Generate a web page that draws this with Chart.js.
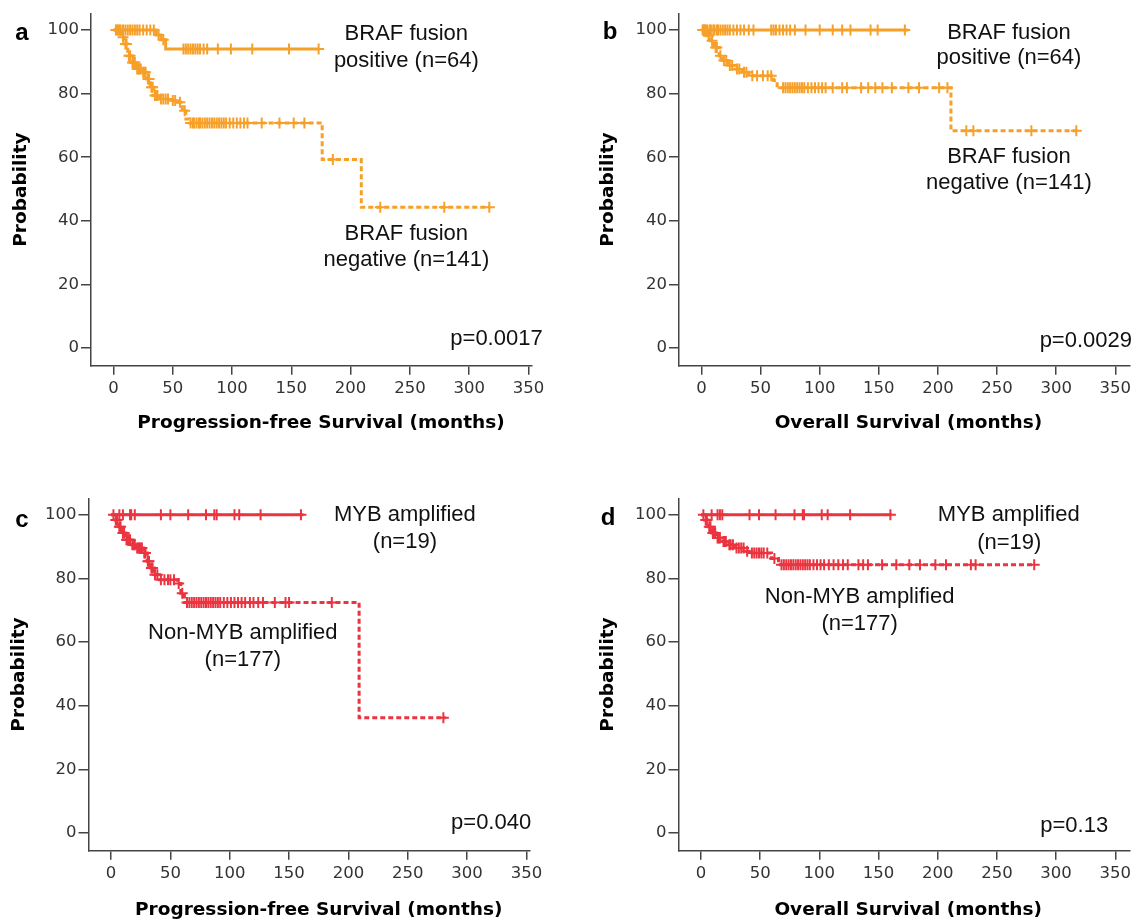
<!DOCTYPE html>
<html>
<head>
<meta charset="utf-8">
<script src="https://cdn.jsdelivr.net/npm/chart.js@4.4.1/dist/chart.umd.min.js"></script>
<style>
  html, body { margin: 0; padding: 0; background: #fff; }
  #wrap { position: relative; width: 1137px; height: 922px; overflow: hidden; }
  canvas { position: absolute; }
</style>
</head>
<body>
<div id="wrap">
  <canvas id="panelA" width="565" height="460" style="left:0px;top:0px"></canvas>
  <canvas id="panelB" width="567" height="460" style="left:570px;top:0px"></canvas>
  <canvas id="panelC" width="565" height="462" style="left:0px;top:460px"></canvas>
  <canvas id="panelD" width="567" height="462" style="left:570px;top:460px"></canvas>
</div>
<script>
// tick labels
var xTicks = [0, 50, 100, 150, 200, 250, 300, 350];
var yTicks = [0, 20, 40, 60, 80, 100];

// a: progression-free survival, BRAF fusion positive / negative
var aPosTimes = [0, 36, 40, 44, 173];
var aPosSurv = [100, 98.4, 96.9, 94.0, 94.0];
var aPosCensor = [2, 4, 6, 8, 10, 12, 14, 16, 18, 20, 22, 25, 28, 31, 34, 38, 42, 59, 61, 63, 65, 67, 69, 71, 73, 76, 79, 88, 99, 117, 148, 173];
var aNegTimes = [0, 6, 9, 12, 15, 19, 24, 28, 31, 34, 39, 48, 54, 58, 61, 64, 176, 209, 317];
var aNegSurv = [100, 97.7, 95.6, 91.9, 89.8, 87.7, 86.7, 84.6, 82.0, 79.4, 78.3, 77.8, 77.3, 74.6, 72.0, 70.8, 59.3, 44.3, 44.3];
var aNegCensor = [3, 5, 8, 10, 11, 13, 14, 16, 17, 18, 20, 21, 22, 23, 25, 26, 27, 29, 30, 32, 33, 35, 36, 37, 40, 42, 44, 46, 50, 52, 56, 60, 65, 67, 68, 70, 72, 73, 75, 77, 79, 81, 83, 85, 87, 89, 91, 93, 95, 98, 101, 104, 107, 110, 113, 125, 140, 152, 161, 185, 225, 279, 317];

// b: overall survival, BRAF fusion positive / negative
var bPosTimes = [0, 175];
var bPosSurv = [100, 100];
var bPosCensor = [1, 2, 4, 5, 7, 8, 10, 11, 13, 14, 16, 18, 20, 22, 24, 27, 30, 33, 36, 40, 44, 59, 61, 63, 66, 69, 72, 75, 79, 88, 100, 111, 119, 126, 143, 149, 172];
var bNegTimes = [0, 4.5, 7.4, 10.4, 14.9, 17.8, 22.3, 28.2, 34.2, 40.1, 61, 64, 66.9, 211, 317];
var bNegSurv = [100, 98.2, 96.6, 94.5, 91.9, 90.4, 88.8, 87.7, 86.7, 85.6, 84.1, 82.5, 81.8, 68.3, 68.3];
var bNegCensor = [2, 3, 6, 9, 12, 13, 16, 19, 21, 24, 26, 30, 32, 36, 38, 43, 47, 52, 56, 59, 69, 71, 73, 75, 77, 79, 81, 83, 85, 87, 90, 93, 96, 99, 102, 105, 111, 119, 123, 135, 141, 147, 153, 161, 175, 184, 201, 208, 224, 230, 279, 317];

// c: progression-free survival, MYB amplified / non-amplified
var cPosTimes = [0, 162];
var cPosSurv = [100, 100];
var cPosCensor = [7, 10, 16, 17, 20, 42, 50, 65, 80, 87, 89, 104, 108, 126, 160];
var cNegTimes = [0, 3.6, 6.6, 9.6, 12.5, 17, 21.5, 27.5, 30.5, 33.4, 36.4, 40.9, 55.8, 58.8, 61.8, 209, 282];
var cNegSurv = [100, 98.4, 96.3, 94.3, 92.2, 90.6, 89.6, 88.0, 85.4, 83.3, 81.2, 79.6, 78.4, 75.4, 72.5, 36.3, 36.3];
var cNegCensor = [2, 4, 5, 7, 8, 10, 11, 13, 14, 15, 16, 18, 19, 20, 22, 23, 24, 25, 26, 28, 29, 31, 32, 34, 35, 37, 39, 42, 45, 48, 50, 53, 57, 60, 64, 66, 68, 70, 72, 74, 76, 78, 80, 82, 84, 86, 88, 90, 92, 95, 98, 101, 104, 107, 110, 113, 117, 120, 124, 128, 138, 147, 150, 186, 280];

// d: overall survival, MYB amplified / non-amplified
var dPosTimes = [0, 161];
var dPosSurv = [100, 100];
var dPosCensor = [9, 14, 16, 18, 41, 49, 63, 79, 86, 87, 102, 107, 126, 160];
var dNegTimes = [0, 3, 6, 9, 13.4, 17.9, 22.3, 28.3, 37.2, 41.7, 59.6, 65.5, 281.5];
var dNegSurv = [100, 98.4, 96.3, 94.3, 92.7, 91.6, 90.6, 89.6, 88.6, 88.0, 86.3, 84.3, 84.3];
var dNegCensor = [2, 4, 5, 7, 8, 10, 11, 12, 14, 15, 16, 19, 20, 21, 24, 25, 27, 30, 32, 34, 36, 39, 43, 45, 47, 49, 51, 53, 56, 62, 68, 70, 72, 74, 76, 78, 80, 82, 84, 86, 88, 90, 92, 95, 98, 101, 104, 108, 112, 116, 120, 124, 133, 137, 141, 153, 165, 176, 185, 198, 207, 228, 232, 281.5];

var ORANGE = '#f6a02a';
var RED = '#ea3440';
var AXIS = '#444';

// survival value of a step curve at time t (for placing censor marks)
function survAt(times, surv, t) {
  var s = surv[0];
  for (var i = 0; i < times.length; i++) {
    if (times[i] <= t) s = surv[i];
  }
  return s;
}

function curveSets(times, surv, censor, color, dashed) {
  var line = {
    data: times.map(function (t, i) { return { x: t, y: surv[i] }; }),
    showLine: true,
    stepped: true,
    borderColor: color,
    borderWidth: 3,
    borderDash: dashed ? [5, 3] : [],
    pointRadius: 0
  };
  var marks = {
    data: censor.map(function (t) { return { x: t, y: survAt(times, surv, t) }; }),
    showLine: false,
    pointStyle: 'cross',
    pointRadius: 5.5,
    borderWidth: 2,
    borderColor: color,
    backgroundColor: color
  };
  return [line, marks];
}

// draws panel letter, x axis title and the group / p-value notes
var notesPlugin = {
  id: 'notes',
  afterDraw: function (chart, args, opts) {
    var ctx = chart.ctx;
    var xs = chart.scales.x, ys = chart.scales.y;
    ctx.save();
    ctx.fillStyle = '#000';
    ctx.textBaseline = 'middle';
    ctx.textAlign = 'center';
    ctx.font = 'bold 24px "Liberation Sans", Arial, sans-serif';
    ctx.fillText(opts.letter, opts.letterPos[0], opts.letterPos[1]);
    ctx.font = 'bold 18.5px "DejaVu Sans", sans-serif';
    ctx.fillText(opts.xTitle, xs.getPixelForValue(175), opts.xTitleY);
    ctx.font = '22px "Liberation Sans", Arial, sans-serif';
    ctx.fillStyle = '#111';
    opts.notes.forEach(function (n) {
      ctx.textAlign = n.align || 'center';
      ctx.fillText(n.text, xs.getPixelForValue(n.x), ys.getPixelForValue(n.y));
    });
    ctx.restore();
  }
};

function makePanel(id, cfg) {
  var ctx = document.getElementById(id);
  var datasets = []
    .concat(curveSets(cfg.pos[0], cfg.pos[1], cfg.pos[2], cfg.color, false))
    .concat(curveSets(cfg.neg[0], cfg.neg[1], cfg.neg[2], cfg.color, true));
  new Chart(ctx, {
    type: 'scatter',
    data: { datasets: datasets },
    plugins: [notesPlugin],
    options: {
      responsive: false,
      animation: false,
      events: [],
      layout: { padding: cfg.padding },
      plugins: {
        legend: { display: false },
        tooltip: { enabled: false },
        notes: cfg.notes
      },
      scales: {
        x: {
          type: 'linear',
          min: -19,
          max: cfg.xMax,
          afterBuildTicks: function (scale) {
            scale.ticks = xTicks.map(function (v) { return { value: v }; });
          },
          afterFit: function (scale) { scale.height = cfg.xHeight; },
          grid: { display: true, drawOnChartArea: false, drawTicks: true, tickLength: 9, color: AXIS, lineWidth: 1.5 },
          border: { display: true, color: AXIS, width: 1.5 },
          ticks: { color: '#333', padding: 4, maxRotation: 0, font: { family: 'DejaVu Sans', size: 16.5 } }
        },
        y: {
          min: -5.5,
          max: 105.2,
          afterBuildTicks: function (scale) {
            scale.ticks = yTicks.map(function (v) { return { value: v }; });
          },
          afterFit: function (scale) { scale.width = cfg.yWidth; },
          grid: { display: true, drawOnChartArea: false, drawTicks: true, tickLength: 10, color: AXIS, lineWidth: 1.5 },
          border: { display: true, color: AXIS, width: 1.5 },
          ticks: { color: '#333', padding: 2, font: { family: 'DejaVu Sans', size: 16.5 } },
          title: {
            display: true,
            text: 'Probability',
            color: '#000',
            padding: { top: cfg.yTitlePad, bottom: 0 },
            font: { family: 'DejaVu Sans', size: 18.5, weight: 'bold' }
          }
        }
      }
    }
  });
}

makePanel('panelA', {
  color: ORANGE,
  pos: [aPosTimes, aPosSurv, aPosCensor],
  neg: [aNegTimes, aNegSurv, aNegCensor],
  xMax: 353, yWidth: 91, xHeight: 94.3, yTitlePad: 10,
  padding: { left: 0, top: 13.4, right: 33, bottom: 0 },
  notes: {
    letter: 'a', letterPos: [22, 33], xTitle: 'Progression-free Survival (months)', xTitleY: 423,
    notes: [
      { text: 'BRAF fusion', x: 247, y: 98.7 },
      { text: 'positive (n=64)', x: 247, y: 90.3 },
      { text: 'BRAF fusion', x: 247, y: 35.8 },
      { text: 'negative (n=141)', x: 247, y: 27.7 },
      { text: 'p=0.0017', x: 362, y: 2.8, align: 'right' }
    ]
  }
});

makePanel('panelB', {
  color: ORANGE,
  pos: [bPosTimes, bPosSurv, bPosCensor],
  neg: [bNegTimes, bNegSurv, bNegCensor],
  xMax: 362, yWidth: 109, xHeight: 94.3, yTitlePad: 27,
  padding: { left: 0, top: 13.4, right: 5, bottom: 0 },
  notes: {
    letter: 'b', letterPos: [40, 32], xTitle: 'Overall Survival (months)', xTitleY: 423,
    notes: [
      { text: 'BRAF fusion', x: 260, y: 99.2 },
      { text: 'positive (n=64)', x: 260, y: 91.2 },
      { text: 'BRAF fusion', x: 260, y: 60.2 },
      { text: 'negative (n=141)', x: 260, y: 51.8 },
      { text: 'p=0.0029', x: 286, y: 2.3, align: 'left' }
    ]
  }
});

makePanel('panelC', {
  color: RED,
  pos: [cPosTimes, cPosSurv, cPosCensor],
  neg: [cNegTimes, cNegSurv, cNegCensor],
  xMax: 353, yWidth: 88.5, xHeight: 71.3, yTitlePad: 8,
  padding: { left: 0, top: 38.3, right: 35, bottom: 0 },
  notes: {
    letter: 'c', letterPos: [22, 60], xTitle: 'Progression-free Survival (months)', xTitleY: 450,
    notes: [
      { text: 'MYB amplified', x: 247.6, y: 100 },
      { text: '(n=19)', x: 247.6, y: 91.6 },
      { text: 'Non-MYB amplified', x: 111, y: 62.9 },
      { text: '(n=177)', x: 111, y: 54.3 },
      { text: 'p=0.040', x: 354, y: 3.3, align: 'right' }
    ]
  }
});

makePanel('panelD', {
  color: RED,
  pos: [dPosTimes, dPosSurv, dPosCensor],
  neg: [dNegTimes, dNegSurv, dNegCensor],
  xMax: 362, yWidth: 108.5, xHeight: 71.3, yTitlePad: 27,
  padding: { left: 0, top: 38.3, right: 5, bottom: 0 },
  notes: {
    letter: 'd', letterPos: [38, 58], xTitle: 'Overall Survival (months)', xTitleY: 450,
    notes: [
      { text: 'MYB amplified', x: 260, y: 100 },
      { text: '(n=19)', x: 260.4, y: 91.3 },
      { text: 'Non-MYB amplified', x: 134, y: 74.2 },
      { text: '(n=177)', x: 134, y: 65.8 },
      { text: 'p=0.13', x: 344, y: 2.3, align: 'right' }
    ]
  }
});
</script>
</body>
</html>
